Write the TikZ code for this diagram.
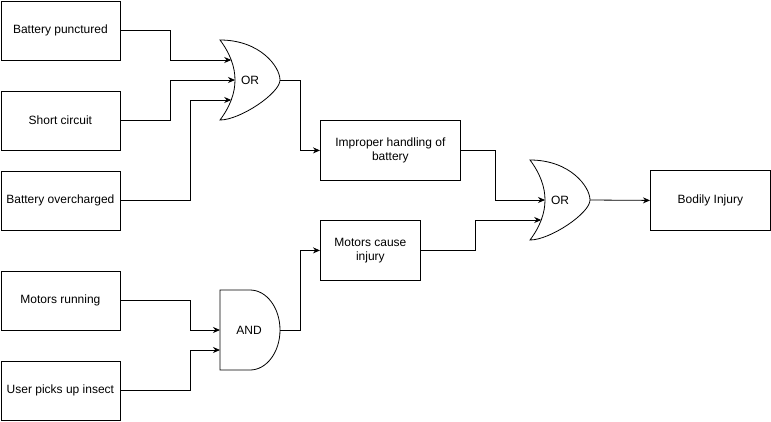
\documentclass[tikz,border=0pt]{standalone}
\usepackage{fontspec}
\setmainfont{Liberation Sans}
\usetikzlibrary{arrows.meta}
\begin{document}
\begin{tikzpicture}[x=1pt,y=-1pt,
  box/.style={draw, line width=0.8pt, minimum height=59pt, inner sep=0pt, align=center, font=\fontsize{12}{14}\selectfont, anchor=north west},
  wire/.style={line width=0.8pt, -{Stealth[length=7pt,width=6pt]}},
  gateshape/.style={draw, line width=0.8pt},
  glabel/.style={font=\fontsize{12}{14}\selectfont}
]
\useasboundingbox (0,0) rectangle (771,421);
% boxes
\node[box, minimum width=119pt] (bp) at (0.5,0.5) {Battery punctured};
\node[box, minimum width=119pt] (sc) at (0.5,90.5) {Short circuit};
\node[box, minimum width=119pt] (bo) at (0.5,170.5) {Battery overcharged};
\node[box, minimum width=119pt] (mr) at (0.5,270.5) {Motors running};
\node[box, minimum width=119pt] (ui) at (0.5,360.5) {User picks up insect};
\node[box, minimum width=140pt, minimum height=60pt] (ih) at (320,120) {Improper handling of\\battery};
\node[box, minimum width=100pt, minimum height=60pt] (mc) at (320,220) {Motors cause\\injury};
\node[box, minimum width=120pt, minimum height=60pt] (bi) at (650,170) {Bodily Injury};
% OR gate 1
\draw[gateshape] (220,40) .. controls (260,40) and (280,66.7) .. (280,80)
  .. controls (280,93.3) and (240,120) .. (220,120)
  .. controls (240,93.3) and (240,66.7) .. (220,40) -- cycle;
\node[glabel] (or1) at (250,80) {OR};
\coordinate (or1a) at (231.25,60);
\coordinate (or1b) at (235,80);
\coordinate (or1c) at (231.25,100);
\coordinate (or1o) at (280,80);
% AND gate
\draw[gateshape] (220,290) -- (250,290) .. controls (266.6,290) and (280,307.9) .. (280,330)
  .. controls (280,352.1) and (266.6,370) .. (250,370) -- (220,370) -- cycle;
\node[glabel] (and1) at (249,330) {AND};
\coordinate (and1a) at (220,330);
\coordinate (and1b) at (220,350);
\coordinate (and1o) at (280,330);
% OR gate 2
\draw[gateshape] (530,160) .. controls (570,160) and (590,186.7) .. (590,200)
  .. controls (590,213.3) and (550,240) .. (530,240)
  .. controls (550,213.3) and (550,186.7) .. (530,160) -- cycle;
\node[glabel] (or2) at (560,200) {OR};
\coordinate (or2a) at (545,200);
\coordinate (or2b) at (541.25,220);
\coordinate (or2o) at (590,200);
% connectors
\draw[wire] (bp.east) -- ++(50,0) |- (or1a);
\draw[wire] (sc.east) -- ++(50,0) |- (or1b);
\draw[wire] (bo.east) -- ++(70,0) |- (or1c);
\draw[wire] (or1o) -- ++(20,0) |- (ih.west);
\draw[wire] (mr.east) -- ++(70,0) |- (and1a);
\draw[wire] (ui.east) -- ++(70,0) |- (and1b);
\draw[wire] (and1o) -- ++(20,0) |- (mc.west);
\draw[wire] (ih.east) -- ++(35,0) |- (or2a);
\draw[wire] (mc.east) -- ++(55,0) |- (or2b);
\draw[wire] (or2o) -- (bi.west);
\end{tikzpicture}
\end{document}
